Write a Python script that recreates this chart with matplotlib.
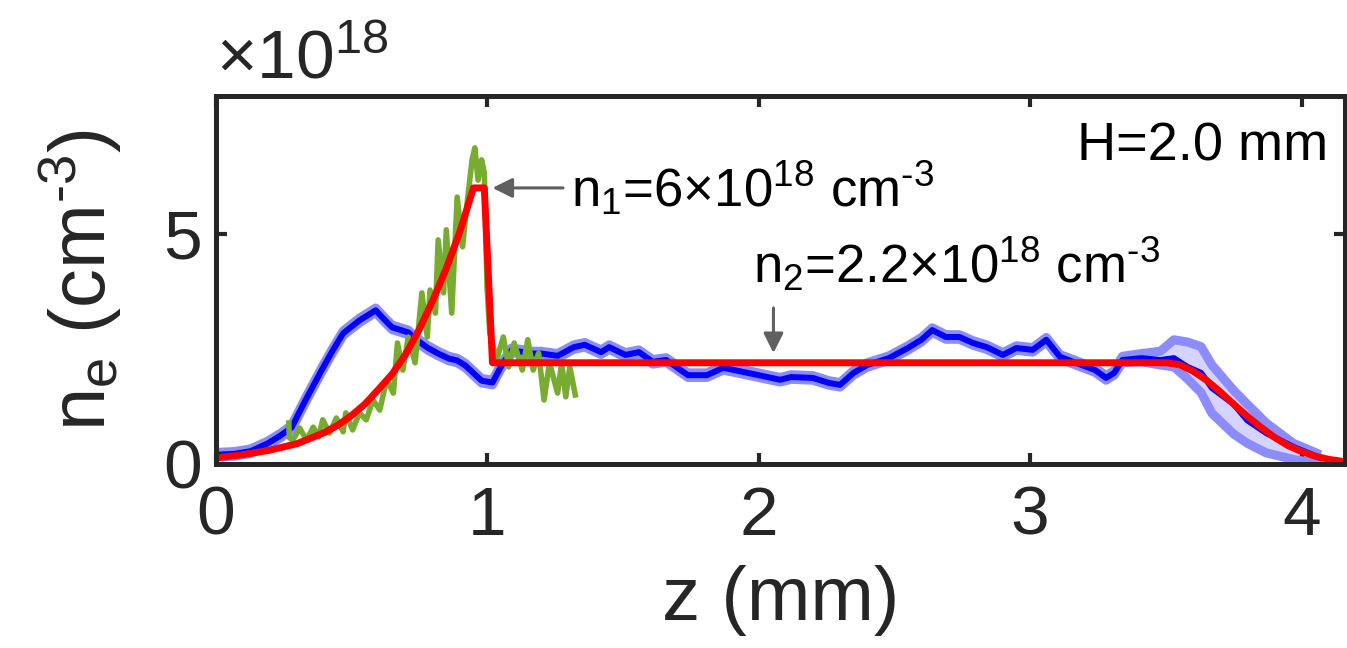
import numpy as np
import matplotlib
matplotlib.use("Agg")
import matplotlib.pyplot as plt

plt.rcParams['font.family'] = ['Liberation Sans', 'DejaVu Sans']
plt.rcParams['mathtext.default'] = 'regular'

# density values in units of 1e18 cm^-3, z in mm

# measured profile (blue) with its band
z_blue = [0.00, 0.07, 0.13, 0.19, 0.24, 0.28, 0.33, 0.39, 0.43, 0.47, 0.53, 0.59, 0.62, 0.65,
          0.71, 0.74, 0.78, 0.82, 0.86, 0.89, 0.92, 0.98, 1.02, 1.05, 1.09, 1.17, 1.20, 1.26,
          1.32, 1.36, 1.42, 1.45, 1.51, 1.56, 1.61, 1.66, 1.74, 1.81, 1.87, 1.96, 2.08, 2.12,
          2.20, 2.26, 2.30, 2.35, 2.40, 2.48, 2.55, 2.60, 2.64, 2.69, 2.74, 2.79, 2.84, 2.90,
          2.95, 3.01, 3.06, 3.11, 3.19, 3.24, 3.28, 3.31, 3.34, 3.41, 3.48, 3.53, 3.58, 3.63,
          3.67, 3.75, 3.80, 3.87, 3.97, 4.07]
ne_blue = [0.20, 0.22, 0.28, 0.44, 0.62, 0.79, 1.37, 2.03, 2.45, 2.84, 3.12, 3.34, 3.15, 2.97,
           2.86, 2.70, 2.53, 2.40, 2.29, 2.25, 2.14, 1.81, 1.77, 2.10, 2.47, 2.40, 2.40, 2.35,
           2.54, 2.59, 2.43, 2.54, 2.37, 2.43, 2.22, 2.26, 1.93, 1.93, 2.09, 1.98, 1.83, 1.89,
           1.87, 1.76, 1.72, 1.98, 2.15, 2.30, 2.52, 2.70, 2.91, 2.76, 2.76, 2.63, 2.54, 2.37,
           2.52, 2.48, 2.70, 2.33, 2.15, 2.04, 1.87, 1.98, 2.26, 2.30, 2.26, 2.30, 2.11, 1.98,
           1.65, 1.30, 0.95, 0.67, 0.37, 0.13]
blue_hi = [0.25, 0.27, 0.33, 0.49, 0.67, 0.84, 1.42, 2.08, 2.50, 2.89, 3.17, 3.39, 3.20, 3.02,
           2.91, 2.75, 2.58, 2.45, 2.34, 2.30, 2.19, 1.86, 1.82, 2.15, 2.52, 2.45, 2.45, 2.40,
           2.59, 2.64, 2.48, 2.59, 2.42, 2.48, 2.27, 2.31, 1.98, 1.98, 2.14, 2.03, 1.88, 1.94,
           1.92, 1.81, 1.77, 2.03, 2.20, 2.35, 2.57, 2.75, 2.96, 2.81, 2.81, 2.68, 2.59, 2.42,
           2.57, 2.53, 2.75, 2.38, 2.20, 2.09, 1.92, 2.03, 2.34, 2.40, 2.45, 2.70, 2.65, 2.55,
           2.15, 1.60, 1.30, 0.89, 0.45, 0.20]
blue_lo = [0.15, 0.17, 0.23, 0.39, 0.57, 0.74, 1.32, 1.98, 2.40, 2.79, 3.07, 3.29, 3.10, 2.92,
           2.81, 2.65, 2.48, 2.35, 2.24, 2.20, 2.09, 1.76, 1.72, 2.05, 2.42, 2.35, 2.35, 2.30,
           2.49, 2.54, 2.38, 2.49, 2.32, 2.38, 2.17, 2.21, 1.88, 1.88, 2.04, 1.93, 1.78, 1.84,
           1.82, 1.71, 1.67, 1.93, 2.10, 2.25, 2.47, 2.65, 2.86, 2.71, 2.71, 2.58, 2.49, 2.32,
           2.47, 2.43, 2.65, 2.28, 2.10, 1.99, 1.82, 1.93, 2.20, 2.22, 2.15, 2.11, 1.85, 1.55,
           1.10, 0.65, 0.45, 0.24, 0.10, 0.00]

# interferometry trace (green)
z_green = [0.270, 0.272, 0.285, 0.31, 0.335, 0.36, 0.38, 0.395, 0.42, 0.445, 0.47, 0.48, 0.505,
           0.53, 0.555, 0.58, 0.605, 0.63, 0.655, 0.67, 0.69, 0.71, 0.735, 0.76, 0.78, 0.79,
           0.81, 0.82, 0.84, 0.85, 0.87, 0.89, 0.91, 0.925, 0.945, 0.955, 0.967, 0.98, 0.99,
           1.00, 1.01, 1.035, 1.06, 1.08, 1.10, 1.13, 1.15, 1.17, 1.19, 1.21, 1.23, 1.26, 1.275,
           1.29, 1.305, 1.325]
ne_green = [0.89, 0.57, 0.52, 0.78, 0.52, 0.80, 0.59, 0.96, 0.67, 1.00, 0.70, 1.11, 0.74,
            1.11, 0.96, 1.39, 1.17, 1.83, 1.54, 2.63, 2.04, 2.76, 2.20, 3.72, 2.76, 3.78,
            3.28, 4.87, 3.72, 5.09, 3.28, 5.80, 4.72, 5.59, 6.61, 6.87, 6.17, 6.61, 6.33,
            3.85, 2.85, 2.26, 2.76, 2.11, 2.63, 2.04, 2.70, 2.04, 2.41, 1.39, 2.20, 1.54, 2.20,
            1.46, 2.11, 1.50]

# model profile (red)
z_red = [0.00, 0.10, 0.20, 0.30, 0.40, 0.45, 0.50, 0.55, 0.60, 0.65, 0.70, 0.75, 0.80, 0.85,
         0.90, 0.95, 0.99, 1.02, 3.50, 3.55, 3.60, 3.65, 3.70, 3.75, 3.80, 3.85, 3.90, 3.95,
         4.00, 4.05, 4.10, 4.16]
ne_red = [0.13, 0.20, 0.30, 0.44, 0.68, 0.84, 1.05, 1.30, 1.62, 1.95, 2.38, 2.92, 3.55, 4.25,
          5.05, 6.00, 6.00, 2.20, 2.20, 2.16, 2.02, 1.82, 1.57, 1.30, 1.04, 0.80, 0.58, 0.40,
          0.27, 0.17, 0.10, 0.05]

fig = plt.figure(figsize=(13.47, 6.48), dpi=100)
ax = fig.add_axes([0.160, 0.284, 0.8385, 0.568])

ax.fill_between(z_blue, blue_lo, blue_hi, color='#d4d4ff', lw=0)
ax.plot(z_blue, blue_hi, color='#8c8cff', lw=6.5, solid_joinstyle='round', solid_capstyle='butt')
ax.plot(z_blue, blue_lo, color='#8c8cff', lw=6.5, solid_joinstyle='round', solid_capstyle='butt')
ax.plot(z_blue, ne_blue, color='#0000ff', lw=4.3, solid_joinstyle='round')
ax.plot(z_green, ne_green, color='#77ac30', lw=4)
ax.plot(z_red, ne_red, color='#ff0000', lw=5)

ax.set_xlim(0, 4.16)
ax.set_ylim(0, 8)
ax.set_xticks([0, 1, 2, 3, 4])
ax.set_yticks([0, 5])
ax.tick_params(direction='in', length=8, width=3, top=True, right=True,
               labelsize=50, colors='#262626', pad=10)
ax.tick_params(axis='x', pad=15)
for s in ax.spines.values():
    s.set_linewidth(3.6)
    s.set_color('#262626')

ax.set_xlabel('z (mm)', fontsize=55, color='#262626', labelpad=12)
ax.set_ylabel('n$_e$ (cm$^{\u20103}$)', fontsize=56, color='#262626', labelpad=28)
ax.text(0.0, 1.01, r'$\times$10$^{18}$', transform=ax.transAxes, fontsize=50,
        color='#262626', ha='left', va='bottom')

ax.text(0.985, 0.93, 'H=2.0 mm', transform=ax.transAxes, fontsize=39,
        ha='right', va='top', color='black')

ax.annotate('', xy=(1.01, 6.0), xytext=(1.29, 6.0),
            arrowprops=dict(arrowstyle='-|>', color='#606060', lw=2.2, mutation_scale=30))
ax.text(1.31, 6.0, 'n$_1$=6×10$^{18}$ cm$^{\u20103}$', fontsize=38, va='center', ha='left')

ax.annotate('', xy=(2.055, 2.35), xytext=(2.055, 3.45),
            arrowprops=dict(arrowstyle='-|>', color='#606060', lw=2.2, mutation_scale=30))
ax.text(1.98, 3.7, 'n$_2$=2.2×10$^{18}$ cm$^{\u20103}$', fontsize=38, va='bottom', ha='left')

fig.savefig('out.png', dpi=100)
